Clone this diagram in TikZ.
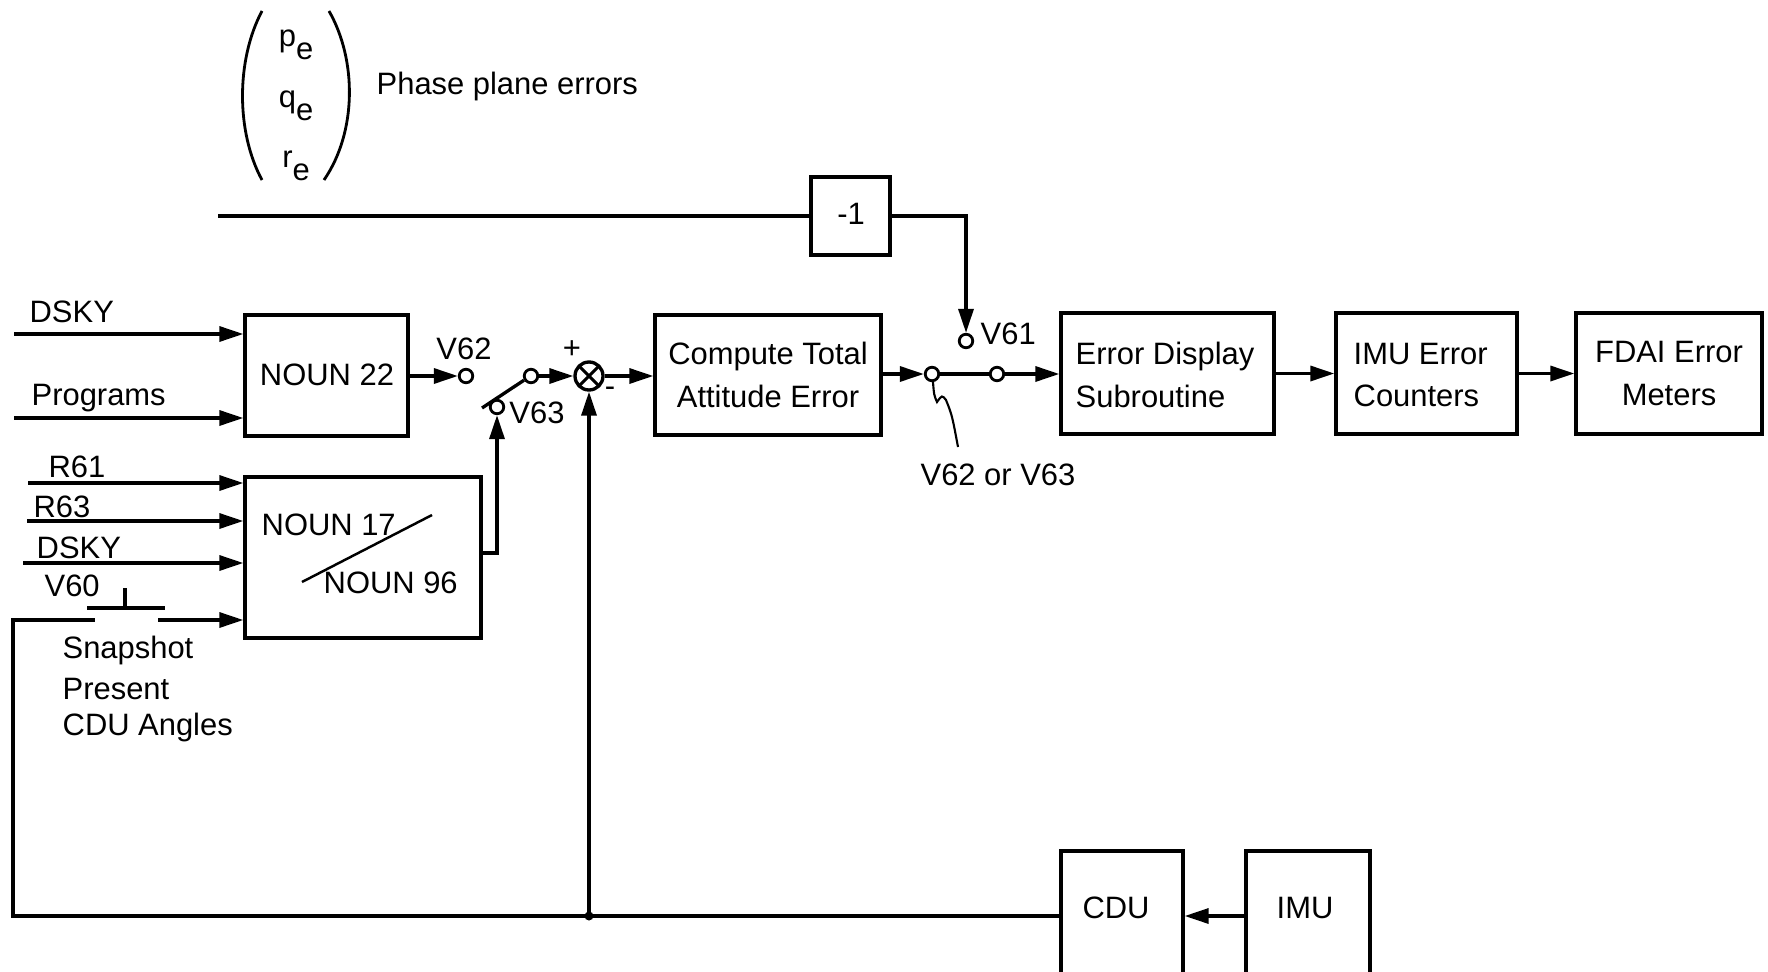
\documentclass[tikz,border=0pt]{standalone}
\usepackage{fontspec}
\setmainfont{Liberation Sans}
\usetikzlibrary{arrows.meta}
\begin{document}
\begin{tikzpicture}[x=0.1mm,y=-0.1mm,
  line width=0.95pt,
  lbl/.style={font=\fontsize{8.8}{10.5}\selectfont, inner sep=0pt},
  box/.style={draw, line width=0.95pt, inner sep=0pt},
  arr/.style={-{Triangle[length=2.4mm,width=1.5mm]}},
  contact/.style={circle, draw, fill=white, line width=0.8pt, inner sep=0pt, minimum size=1.35mm},
  sumjn/.style={circle, draw, line width=0.95pt, inner sep=0pt, minimum size=2.8mm,
    path picture={\draw[line width=0.9pt] (path picture bounding box.north west) -- (path picture bounding box.south east)
      (path picture bounding box.north east) -- (path picture bounding box.south west);}}
]
\useasboundingbox (0,0) rectangle (1768,972);

% phase plane errors
\draw[line width=0.8pt] (262,11) .. controls (236,60) and (236,132) .. (262,180);
\draw[line width=0.8pt] (329,11) .. controls (357,60) and (357,132) .. (324,180);
\node[lbl] (pe) at (296,45) {p\raisebox{-0.8ex}{e}};
\node[lbl] (qe) at (296,106) {q\raisebox{-0.8ex}{e}};
\node[lbl] (re) at (296,166) {r\raisebox{-0.8ex}{e}};
\node[lbl, anchor=west] (ppe) at (375,87) {Phase plane errors};

% boxes
\node[box, minimum width=16.3mm, minimum height=12.1mm] (n22) at (326.5,375.5) {};
\node[lbl] at (327,375) {NOUN 22};
\node[box, minimum width=23.6mm, minimum height=16.1mm] (n17) at (363,557.5) {};
\node[lbl, anchor=west] (t17) at (260,525) {NOUN 17};
\node[lbl, anchor=west] (t96) at (322,583) {NOUN 96};
\draw[line width=0.7pt] (302,582) -- (432,515);
\node[box, minimum width=7.9mm, minimum height=7.8mm] (neg) at (850.5,216) {};
\node[lbl] at (851,214) {-1};
\node[box, minimum width=22.6mm, minimum height=12mm, lbl, align=center] (comp) at (768,375) {Compute Total\\[0.6mm]Attitude Error};
\node[box, minimum width=21.3mm, minimum height=12.1mm] (eds) at (1167.5,373.5) {};
\node[lbl, anchor=west, align=left] at (1074,375) {Error Display\\[0.6mm]Subroutine};
\node[box, minimum width=18.1mm, minimum height=12.1mm] (imuc) at (1426.5,373.5) {};
\node[lbl, anchor=west, align=left] at (1352,375) {IMU Error\\[0.6mm]Counters};
\node[box, minimum width=18.6mm, minimum height=12.1mm, lbl, align=center] (fdai) at (1669,373.5) {FDAI Error\\[0.6mm]Meters};
\node[box, minimum width=12.2mm, minimum height=15mm] (cdu) at (1122,926) {};
\node[lbl] at (1116,908) {CDU};
\node[box, minimum width=12.4mm, minimum height=15mm] (imu) at (1308,926) {};
\node[lbl] at (1305,908) {IMU};

% input labels
\node[lbl, anchor=west] at (28,312) {DSKY};
\node[lbl, anchor=west] at (30,398) {Programs};
\node[lbl, anchor=west] at (47,467) {R61};
\node[lbl, anchor=west] at (32,507) {R63};
\node[lbl, anchor=west] at (35,548) {DSKY};
\node[lbl, anchor=west] at (43,586) {V60};
\node[lbl, anchor=west] at (61,650) {Snapshot};
\node[lbl, anchor=west] at (61,689) {Present};
\node[lbl, anchor=west] at (61,727) {CDU Angles};

% input lines
\coordinate (i1) at (14,334);
\coordinate (i2) at (14,418);
\coordinate (i3) at (28,483);
\coordinate (i4) at (27,521);
\coordinate (i5) at (23,563);
\coordinate (v60b) at (158,620);
\coordinate (v60a) at (95,620);
\draw[arr] (i1) -- (i1 -| n22.west);
\draw[arr] (i2) -- (i2 -| n22.west);
\draw[arr] (i3) -- (i3 -| n17.west);
\draw[arr] (i4) -- (i4 -| n17.west);
\draw[arr] (i5) -- (i5 -| n17.west);
\draw[arr] (v60b) -- (v60b -| n17.west);
% V60 push button
\draw (87,608) -- (165,608);
\draw (125,588) -- (125,608);

% switches
\node[contact] (c62) at (466,376) {};
\node[contact] (cp) at (531,376) {};
\node[contact] (c63) at (497,407) {};
\node[sumjn] (s) at (589,376) {};
\draw (cp.211) -- (482,408);
\node[lbl] at (464,349) {V62};
\node[lbl] at (537,413) {V63};
\node[lbl] at (572,350) {+};
\node[lbl] at (610,392) {-};
\draw[arr] (n22.east |- c62) -- (c62);
\coordinate (k1) at (497,553);
\draw[arr] (n17.east |- k1) -- (k1) -- (c63);
\draw[arr] (cp) -- (s);
\draw[arr] (s) -- (s -| comp.west);

% feedback
\coordinate (jd) at (589,916);
\coordinate (bl) at (13,916);
\draw (cdu.west |- jd) -- (bl) |- (v60a);
\fill (jd) circle (4.5);
\draw[arr] (jd) -- (s);
\draw[arr] (imu.west |- jd) -- (cdu.east |- jd);

% phase line and -1
\coordinate (ph) at (218,216);
\draw (ph) -- (neg.west);
\node[contact] (c61) at (966,341) {};
\node[lbl, anchor=west] at (979,334) {V61};
\draw[arr] (neg.east) -| (c61);

% main line
\node[contact] (ca) at (932,374) {};
\node[contact] (cb) at (997,374) {};
\draw[arr] (comp.east |- ca) -- (ca);
\draw (ca) -- (cb);
\draw[arr] (cb) -- (cb -| eds.west);
\draw[line width=0.6pt] (933,382) .. controls (934,395) .. (937,402) .. controls (942,395) .. (946,400) .. controls (952,415) .. (958,447);
\node[lbl] at (998,475) {V62 or V63};

\draw[arr] (eds.east) -- (imuc.west);
\draw[arr] (imuc.east) -- (fdai.west);
\end{tikzpicture}
\end{document}
